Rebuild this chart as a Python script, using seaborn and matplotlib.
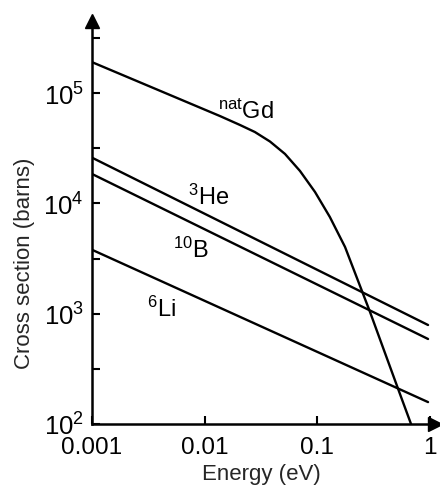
import numpy as np
import pandas as pd
import matplotlib
matplotlib.use("Agg")
import matplotlib.pyplot as plt
import matplotlib.ticker as mticker
import seaborn as sns

# ---- data ----
gd_energy = [0.001, 0.0137, 0.0206, 0.0279, 0.0380, 0.0516, 0.0701, 0.0953,
             0.129, 0.176, 0.2245, 0.293, 0.398, 0.541, 0.678]
gd_sigma = [1.91e5, 6.19e4, 5.14e4, 4.44e4, 3.64e4, 2.81e4, 1.97e4, 1.27e4,
            7.54e3, 4.03e3, 2.11e3, 1.04e3, 441, 187, 100]
he_energy = [0.001, 0.96]
he_sigma = [2.6e4, 790]
b_energy = [0.001, 0.96]
b_sigma = [1.85e4, 590]
li_energy = [0.001, 0.96]
li_sigma = [3.8e3, 158]

x_ticks = [0.001, 0.01, 0.1, 1]
x_ticklabels = ["0.001", "0.01", "0.1", "1"]
y_ticks = [1e2, 1e3, 1e4, 1e5]
y_minor = [10**2.5, 10**3.5, 10**4.5, 10**5.5]

labels = {
    "Gd": (r"$^{\mathrm{nat}}$Gd", 0.0131, 6.0e4),
    "He": (r"$^{\mathrm{3}}$He", 0.0071, 9.9e3),
    "B": (r"$^{\mathrm{10}}$B", 0.0052, 3.27e3),
    "Li": (r"$^{\mathrm{6}}$Li", 0.0031, 9.5e2),
}

df = pd.concat([
    pd.DataFrame({"E": gd_energy, "s": gd_sigma, "iso": "Gd"}),
    pd.DataFrame({"E": he_energy, "s": he_sigma, "iso": "He"}),
    pd.DataFrame({"E": b_energy, "s": b_sigma, "iso": "B"}),
    pd.DataFrame({"E": li_energy, "s": li_sigma, "iso": "Li"}),
])

sns.set_style("ticks")
plt.rcParams["font.family"] = ["Liberation Sans", "DejaVu Sans"]
plt.rcParams["mathtext.fontset"] = "custom"
plt.rcParams["mathtext.rm"] = "Liberation Sans"
plt.rcParams["mathtext.it"] = "Liberation Sans:italic"
plt.rcParams["mathtext.bf"] = "Liberation Sans:bold"

fig = plt.figure(figsize=(4.40, 4.89), dpi=100)
ax = fig.add_axes([92 / 440, 64 / 489, 343 / 440, 403 / 489])

sns.lineplot(data=df, x="E", y="s", hue="iso",
             palette={"Gd": "black", "He": "black", "B": "black", "Li": "black"},
             legend=False, linewidth=1.7, ax=ax, estimator=None, sort=True)

ax.set_xscale("log")
ax.set_yscale("log")
ax.set_xlim(0.001, 10**0.044)
ax.set_ylim(100, 10**5.654)

ax.xaxis.set_major_locator(mticker.FixedLocator(x_ticks))
ax.xaxis.set_major_formatter(mticker.FixedFormatter(x_ticklabels))
ax.xaxis.set_minor_locator(mticker.NullLocator())
ax.yaxis.set_major_locator(mticker.FixedLocator(y_ticks))
ax.yaxis.set_major_formatter(mticker.LogFormatterSciNotation())
ax.yaxis.set_minor_locator(mticker.FixedLocator(y_minor))
ax.yaxis.set_minor_formatter(mticker.NullFormatter())

ax.tick_params(axis="both", which="both", direction="in", length=6, width=1.5,
               color="black", labelcolor="black")
ax.tick_params(axis="x", pad=9, labelsize=17.5)
ax.tick_params(axis="y", pad=6, labelsize=18.5)

for side in ["top", "right"]:
    ax.spines[side].set_visible(False)
for side in ["left", "bottom"]:
    ax.spines[side].set_linewidth(1.8)
    ax.spines[side].set_color("black")

# axis arrows
ax.plot(1, 0, ">", color="black", markersize=10, transform=ax.transAxes, clip_on=False)
ax.plot(0, 1, "^", color="black", markersize=10, transform=ax.transAxes, clip_on=False)

ax.set_xlabel("Energy (eV)", fontsize=16)
ax.set_ylabel("Cross section (barns)", fontsize=16)
ax.xaxis.set_label_coords(0.493, -0.098)
ax.yaxis.set_label_coords(-0.165, 0.40)

for key, (txt, x, y) in labels.items():
    ax.text(x, y, txt, fontsize=17, ha="left", va="baseline", color="black")

fig.savefig("out.png", dpi=100, facecolor="white")
